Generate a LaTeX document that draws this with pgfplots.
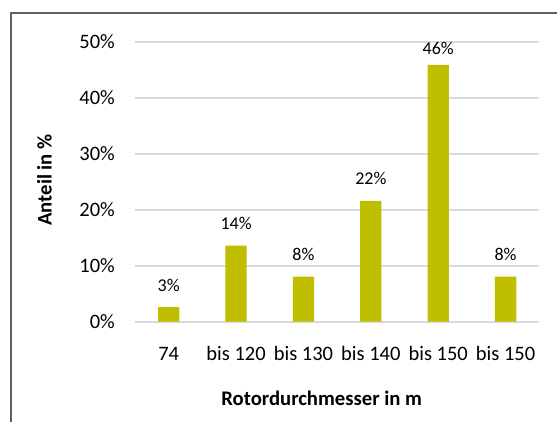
\documentclass[border=0pt]{standalone}
\usepackage{pgfplots}
\pgfplotsset{compat=1.18}
\usepackage{fontspec}
\setmainfont{Carlito}
\definecolor{barcol}{RGB}{191,191,0}
\definecolor{gridcol}{RGB}{217,217,217}
\definecolor{framecol}{RGB}{95,95,95}
\begin{document}
\begin{tikzpicture}[x=1pt,y=1pt]
\useasboundingbox (0,0) rectangle (557,421);
\clip (0,0) rectangle (557,421);
% chart frame
\draw[framecol, line width=2pt] (11.3,-5) -- (11.3,408.3) -- (600,408.3);
\begin{axis}[
  at={(135pt,99.3pt)}, anchor=south west,
  scale only axis, width=404.3pt, height=279.7pt,
  xmin=-0.5, xmax=5.5, ymin=0, ymax=50,
  xtick={0,...,5},
  xticklabels={74, bis 120, bis 130, bis 140, bis 150, bis 150},
  ytick={0,10,...,50},
  yticklabel={\pgfmathprintnumber{\tick}\%},
  /pgf/number format/assume math mode=true,
  axis line style={draw=none},
  tick style={draw=none},
  ymajorgrids,
  major grid style={gridcol, line width=1.6pt},
  xticklabel style={font=\fontsize{20.5}{24}\selectfont, anchor=base, yshift=-34.3pt, inner sep=0pt},
  yticklabel style={font=\fontsize{20.5}{24}\selectfont, anchor=east, xshift=-20pt, inner sep=0pt},
  ybar, bar width=21.3pt,
  clip=false,
  visualization depends on={y \as \rawy},
  nodes near coords={\pgfmathprintnumber[fixed,precision=0]{\pgfplotspointmeta}\%},
  % labels near the top edge sit a little closer to their bar
  every node near coord/.append style={font=\fontsize{18}{21}\selectfont, anchor=base, inner sep=0pt,
    yshift={ifthenelse(\rawy>40,10,16)}},
]
\addplot[fill=barcol, draw=none] coordinates {
  (0,2.6) (1,13.6) (2,8.05) (3,21.6) (4,45.9) (5,8.05)
};
\end{axis}
\node[anchor=base, font=\bfseries\fontsize{20.7}{24}\selectfont, inner sep=0pt] at (321.7,16) {Rotordurchmesser in m};
\node[anchor=base, rotate=90, font=\bfseries\fontsize{20.7}{24}\selectfont, inner sep=0pt] at (51.7,241) {Anteil in \%};
\end{tikzpicture}
\end{document}
